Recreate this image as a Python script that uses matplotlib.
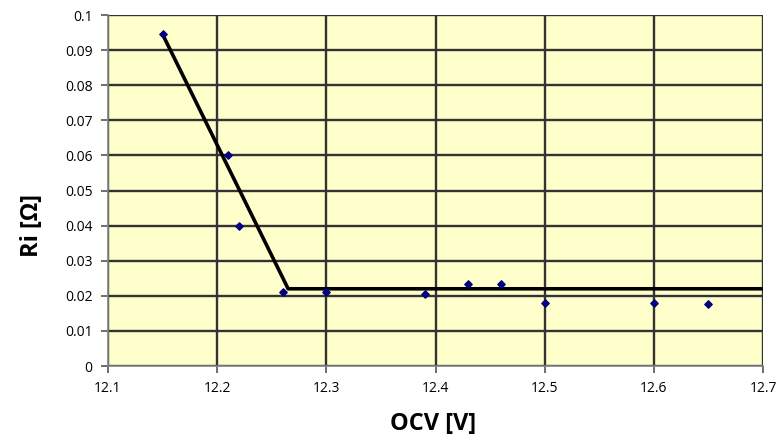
import matplotlib
matplotlib.use("Agg")
import matplotlib.pyplot as plt

plt.rcParams['font.family'] = ['Open Sans', 'DejaVu Sans']

ocv = [12.15, 12.21, 12.22, 12.26, 12.30, 12.39, 12.43, 12.46, 12.50, 12.60, 12.65]
ri = [0.0945, 0.060, 0.040, 0.021, 0.021, 0.0205, 0.0235, 0.0235, 0.018, 0.018, 0.0178]

fit_x = [12.15, 12.265, 12.70]
fit_y = [0.0945, 0.022, 0.022]

xticks = [12.1, 12.2, 12.3, 12.4, 12.5, 12.6, 12.7]
yticks = [0, 0.01, 0.02, 0.03, 0.04, 0.05, 0.06, 0.07, 0.08, 0.09, 0.1]
ytick_labels = ['0', '0.01', '0.02', '0.03', '0.04', '0.05', '0.06', '0.07', '0.08', '0.09', '0.1']

fig = plt.figure(figsize=(7.81, 4.43), dpi=100)
ax = fig.add_axes([0.1383, 0.1738, 0.8387, 0.7923])
ax.set_facecolor('#FFFFCC')

ax.set_xlim(12.1, 12.7)
ax.set_ylim(0, 0.1)
ax.set_xticks(xticks)
ax.set_xticklabels([f"{v:.1f}" for v in xticks], fontsize=10)
ax.set_yticks(yticks)
ax.set_yticklabels(ytick_labels, fontsize=10)
ax.grid(True, color='#333333', linewidth=1.7, zorder=1)
ax.set_axisbelow(True)

for s in ['top', 'right']:
    ax.spines[s].set_visible(False)
for s in ['left', 'bottom']:
    ax.spines[s].set_color('#808080')
    ax.spines[s].set_linewidth(1.2)
ax.tick_params(axis='both', direction='out', length=5, width=1.2, color='#555555', pad=6)

ax.plot(fit_x, fit_y, color='black', linewidth=2.6, zorder=3)
ax.scatter(ocv, ri, marker='D', s=14, color='#000080', zorder=4)

ax.set_xlabel('OCV [V]', fontsize=17, fontweight='bold')
ax.xaxis.set_label_coords(0.496, -0.132)
ax.set_ylabel('Ri [Ω]', fontsize=17, fontweight='bold')
ax.yaxis.set_label_coords(-0.097, 0.40)

fig.savefig('out.png', dpi=100)
